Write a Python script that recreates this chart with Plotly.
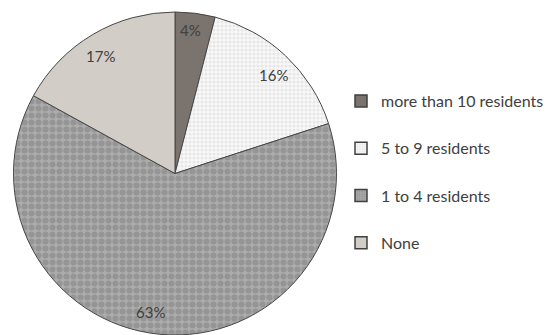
import plotly.graph_objects as go

# Share of facilities by number of residents
labels = ["more than 10 residents", "5 to 9 residents", "1 to 4 residents", "None"]
values = [4, 16, 63, 17]

fills = ["#7b736d", "#f8f8f8", "#acacac", "#d3cdc8"]
pattern_fg = ["#7b736d", "#d6d6d6", "#7d7d7d", "#d3cdc8"]
pattern_shape = ["", ".", ".", ""]
pattern_size = [6, 4, 7, 6]
pattern_solidity = [0.3, 0.5, 0.6, 0.3]

# label centres (pixels) for the percentage texts, same order as values
label_px = [(191, 30), (273, 75), (150, 312), (100, 56)]

W, H = 556, 335
FONT = "Lato, 'Open Sans', sans-serif"
TEXT = "#404040"

cx, cy, r = 175, 173.5, 161.5

fig = go.Figure()
fig.add_trace(go.Pie(
    labels=labels,
    values=values,
    sort=False,
    direction="clockwise",
    rotation=0,
    textinfo="none",
    hoverinfo="label+percent",
    showlegend=False,
    marker=dict(
        colors=fills,
        line=dict(color="#474747", width=1),
        pattern=dict(shape=pattern_shape, fgcolor=pattern_fg, bgcolor=fills,
                     size=pattern_size, solidity=pattern_solidity,
                     fillmode="overlay"),
    ),
    domain=dict(x=[(cx - r) / W, (cx + r) / W], y=[0, 1 - 12 / H]),
))

# legend entries, one group each so they can be spaced apart
for i, lab in enumerate(labels):
    fig.add_trace(go.Bar(
        x=[None], y=[None], name=lab, legendgroup=lab, showlegend=True,
        marker=dict(color=fills[i], line=dict(color="#404040", width=1.5),
                    pattern=dict(shape=pattern_shape[i], fgcolor=pattern_fg[i],
                                 bgcolor=fills[i], size=3, solidity=0.45)),
    ))

total = sum(values)
for v, (px, py) in zip(values, label_px):
    fig.add_annotation(
        x=px / W, y=1 - py / H, xref="paper", yref="paper",
        text=f"{round(100 * v / total)}%", showarrow=False,
        font=dict(family=FONT, size=15, color=TEXT),
        xanchor="center", yanchor="middle",
    )

fig.update_layout(
    width=W, height=H,
    margin=dict(l=0, r=0, t=0, b=0),
    paper_bgcolor="white", plot_bgcolor="white",
    xaxis=dict(visible=False, domain=[0.99, 1]),
    yaxis=dict(visible=False, domain=[0.99, 1]),
    legend=dict(
        x=341 / W, xanchor="left", y=1 - 84 / H, yanchor="top",
        traceorder="grouped", tracegroupgap=23.5,
        font=dict(family=FONT, size=16, color=TEXT),
        bgcolor="rgba(0,0,0,0)",
    ),
    font=dict(family=FONT),
)

fig.write_html("out.html")
